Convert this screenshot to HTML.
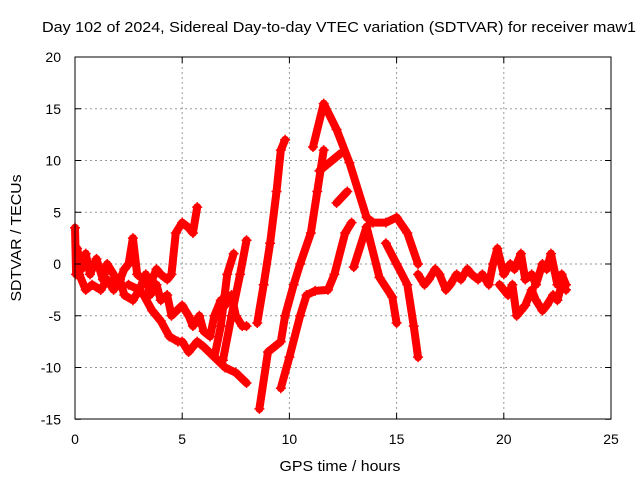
<!DOCTYPE html>
<html><head><meta charset="utf-8"><style>
body{margin:0;background:#fff}
svg{display:block;font-family:"Liberation Sans",sans-serif}
</style></head><body>
<svg id="chart" width="640" height="480">
<text x="339" y="32" text-anchor="middle" font-size="15" textLength="594" lengthAdjust="spacingAndGlyphs">Day 102 of 2024, Sidereal Day-to-day VTEC variation (SDTVAR) for receiver maw1</text>
<text x="340" y="471" text-anchor="middle" font-size="15" textLength="121" lengthAdjust="spacingAndGlyphs">GPS time / hours</text>
<text transform="translate(21,238) rotate(-90)" text-anchor="middle" font-size="15" textLength="127" lengthAdjust="spacingAndGlyphs">SDTVAR / TECUs</text>
<g id="grid"></g><g id="marks"></g><g id="axes"></g>
</svg>
<script>
const xTicks=[0,5,10,15,20,25];
const yTicks=[-15,-10,-5,0,5,10,15,20];
const track1=[[0,3.5],[0.05,-1],[0.1,1.5],[0.3,-0.5],[0.5,1],[0.7,-1],[1,0.5],[1.3,-1.5],[1.5,0],[1.8,-1],[2,-2],[2.3,-0.5],[2.5,0],[2.7,2.5],[2.9,-1],[3.2,-1.5],[3.5,-2],[3.8,-0.5],[4,-1],[4.3,-1.5],[4.5,-1],[4.7,3],[5,4],[5.3,3.5],[5.5,3],[5.7,5.5]];
const track2=[[0.2,-1],[0.5,-2.5],[0.8,-2],[1.2,-2.5],[1.5,-1.5],[1.8,-2.5],[2.1,-1.5],[2.3,-3],[2.7,-3.5],[3,-2.5],[3.2,-3],[3.6,-4.5],[4,-5.5],[4.4,-7],[4.8,-7.5],[5,-7.5],[5.3,-8.5],[5.7,-7.5],[6,-8],[6.5,-9],[7,-10],[7.5,-10.5],[8,-11.5]];
const track3=[[2.5,-2],[3,-2.5],[3.3,-1],[3.5,-3],[3.8,-2],[4,-3.5],[4.3,-3],[4.5,-5],[5,-4],[5.3,-5],[5.5,-6],[5.8,-5],[6,-6.5],[6.3,-7],[6.5,-5],[6.8,-3.5],[7,-4],[7.3,-3],[7.5,-5],[7.8,-6],[8,-6]];
const track4=[[6.5,-9],[6.8,-6],[7.1,-1],[7.4,1]];
const track5=[[6.9,-9.3],[7.3,-5],[7.7,-1],[8,2.3]];
const track6=[[8.5,-5.7],[8.8,-2],[9.1,2],[9.4,7],[9.6,11],[9.8,12]];
const track7=[[8.6,-14],[9.0,-8.5],[9.6,-7.5],[9.8,-5],[10.2,-2],[10.5,0],[11,3],[11.3,7],[11.6,11]];
const track8=[[9.6,-12],[10,-9],[10.5,-5],[10.8,-3],[11.2,-2.6],[11.8,-2.5],[12.1,-1],[12.6,3],[12.9,4]];
const track9=[[11.1,11.3],[11.6,15.5],[12.2,13],[12.8,9.8],[13.6,4.5],[13.9,4],[14.5,4],[15,4.5],[15.5,3],[16,0]];
const track10=[[11.4,9],[12.4,10.7]];
const track11=[[12.2,5.9],[12.7,7]];
const track12=[[13,-0.3],[13.6,3.6],[14.2,-1.3],[14.8,-3.2],[15,-5.7]];
const track13=[[14.5,2],[15,0],[15.5,-2],[15.8,-6],[16,-9]];
const track14=[[16,-1],[16.3,-2],[16.5,-1.5],[16.8,-0.5],[17,-1],[17.3,-2.5],[17.5,-2],[17.8,-1],[18,-1.5],[18.3,-0.5],[18.5,-1],[18.8,-1.5],[19,-1],[19.3,-2],[19.5,0],[19.7,1.5],[20,-1],[20.3,0],[20.5,-0.5],[20.8,1],[21,-1.5],[21.3,-1],[21.5,-2],[21.8,0],[22,-0.5],[22.2,1],[22.5,-2],[22.7,-1],[22.9,-2]];
const track15=[[19.8,-2],[20.2,-3],[20.4,-2],[20.6,-5],[20.8,-4.5],[21,-4],[21.3,-2.5],[21.5,-3.5],[21.8,-4.5],[22,-4],[22.3,-3],[22.5,-3.5],[22.7,-2],[22.9,-2.5]];
const tracks=[track1,track2,track3,track4,track5,track6,track7,track8,track9,track10,track11,track12,track13,track14,track15];
const X=t=>75+t*21.44, Y=v=>264-v*10.35;
const NS="http://www.w3.org/2000/svg";
const grid=document.getElementById('grid'),marks=document.getElementById('marks'),axes=document.getElementById('axes');
function mk(tag,attrs,parent){const e=document.createElementNS(NS,tag);for(const k in attrs)e.setAttribute(k,attrs[k]);parent.appendChild(e);return e;}
xTicks.forEach(t=>{
 if(t>0&&t<25){const g=mk('line',{x1:X(t),x2:X(t),y1:57,y2:419,stroke:'#999','stroke-dasharray':'2,3'},grid);
 
 }
 const l=mk('text',{x:X(t),y:444,'text-anchor':'middle','font-size':14},axes);l.textContent=t;
 
 
 mk('line',{x1:X(t),x2:X(t),y1:419,y2:413,stroke:'#000'},axes);
 mk('line',{x1:X(t),x2:X(t),y1:57,y2:63,stroke:'#000'},axes);
});
yTicks.forEach(v=>{
 if(v>-15&&v<20){const g=mk('line',{x1:75,x2:611,y1:Y(v),y2:Y(v),stroke:'#999','stroke-dasharray':'2,3'},grid);
 
 }
 const l=mk('text',{x:61,y:Y(v)+5,'text-anchor':'end','font-size':14},axes);l.textContent=v;
 
 
 mk('line',{x1:75,x2:81,y1:Y(v),y2:Y(v),stroke:'#000'},axes);
 mk('line',{x1:611,x2:605,y1:Y(v),y2:Y(v),stroke:'#000'},axes);
});
const frame=mk('rect',{x:75,y:57,width:536,height:362,fill:'none',stroke:'#000'},axes);


tracks.forEach(tr=>{
 const p=mk('polyline',{points:tr.map(d=>X(d[0])+','+Y(d[1])).join(' '),fill:'none',stroke:'#f00','stroke-width':8,'stroke-linejoin':'round','stroke-linecap':'round'},marks);
 
 
 tr.forEach(d=>{
  const m=mk('path',{d:`M${X(d[0])-5},${Y(d[1])}h10M${X(d[0])},${Y(d[1])-5}v10`,stroke:'#f00','stroke-width':1.5},marks);
  
  
 });
});
</script>
</body></html>
